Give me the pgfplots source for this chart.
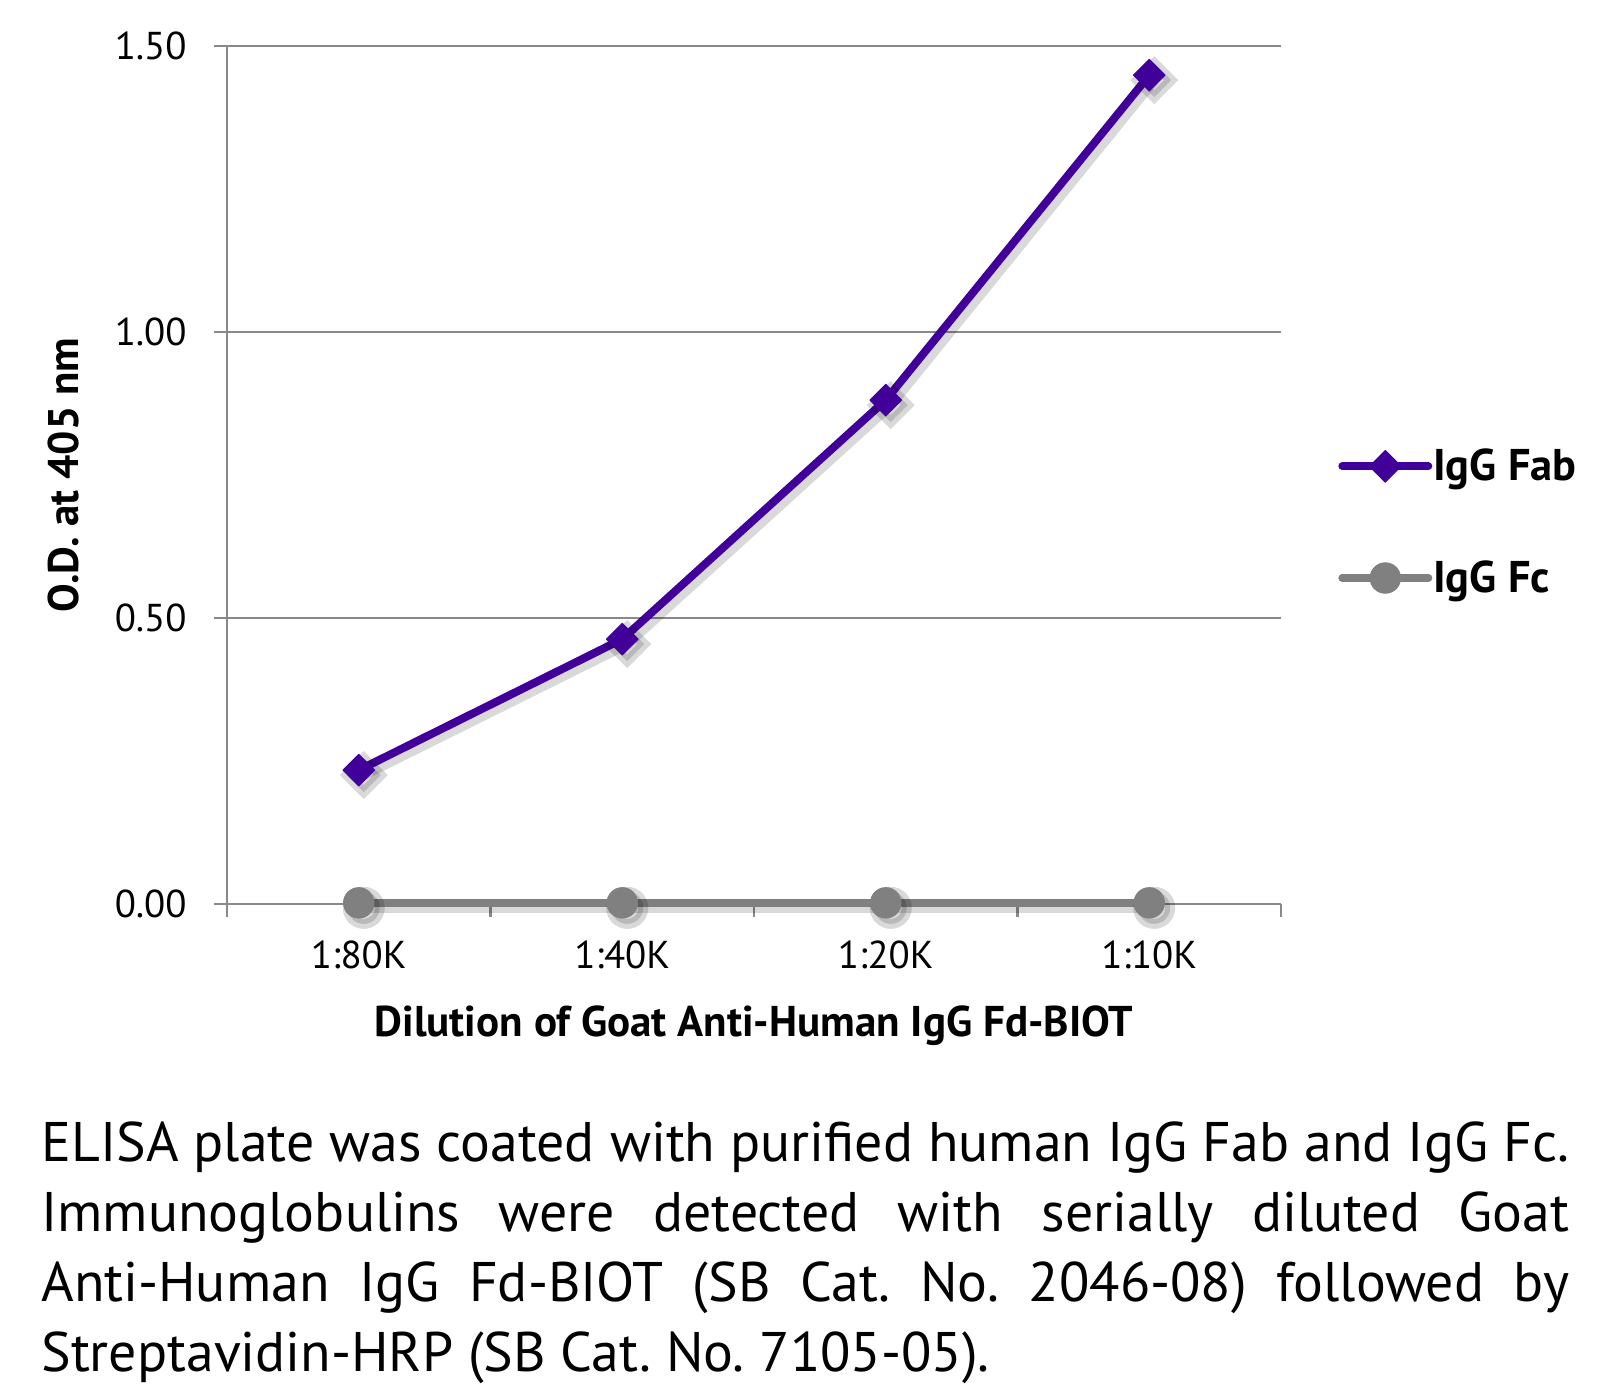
\documentclass[border=0pt]{standalone}
\usepackage{fontspec}
\setmainfont{PT Sans}
\usepackage{pgfplots}
\pgfplotsset{compat=1.18}
\definecolor{fab}{RGB}{66,0,154}
\definecolor{fc}{RGB}{128,128,128}
\definecolor{axgray}{RGB}{137,137,137}
\frenchspacing
\begin{document}
\begin{tikzpicture}
\useasboundingbox (0,0) rectangle (808.5bp,693bp);
\begin{axis}[
  at={(113.5bp,241bp)}, anchor=south west,
  scale only axis, width=527bp, height=429bp,
  xmin=-0.5, xmax=3.5, ymin=0, ymax=1.5,
  axis x line*=bottom, axis y line*=left,
  axis line style={axgray, line width=1.4bp},
  tick align=outside,
  xtick={0,1,2,3}, xticklabels={1:80K,1:40K,1:20K,1:10K},
  major x tick style={draw=none},
  minor xtick={-0.5,0.5,1.5,2.5,3.5},
  minor x tick style={axgray, line width=1.4bp},
  minor tick length=6.5bp,
  ytick={0,0.5,1,1.5},
  ymajorgrids, grid style={axgray, line width=1.4bp},
  major y tick style={axgray, line width=1.4bp},
  major tick length=6.5bp,
  tick label style={font=\fontsize{19.5}{23}\selectfont, text=black},
  yticklabel style={/pgf/number format/fixed, /pgf/number format/fixed zerofill, /pgf/number format/precision=2, anchor=east, inner sep=0pt, xshift=-13.5bp},
  xticklabel style={anchor=center, inner sep=0pt, yshift=-19bp},
  /pgf/number format/assume math mode=true,
  xlabel={Dilution of Goat Anti-Human IgG Fd-BIOT},
  xlabel style={font=\fontsize{21.6}{26}\selectfont\bfseries, at={(axis description cs:0.5,-0.1422)}, anchor=center},
  ylabel={O.D. at 405 nm},
  ylabel style={font=\fontsize{21.5}{26}\selectfont\bfseries, at={(axis description cs:-0.1547,0.5)}, anchor=center},
  legend style={at={(axis description cs:1.054,0.445)}, anchor=west, draw=none, fill=none,
    font=\fontsize{22.3}{26}\selectfont\bfseries, inner sep=0pt, row sep=35.5bp,
    nodes={inner ysep=1.5bp, inner xsep=0.5bp}},
  legend cell align=left,
  legend image code/.code={\draw[mark repeat=2, mark phase=2, #1] plot coordinates {(0bp,0bp) (21.5bp,0bp) (43bp,0bp)};},
  clip=false,
]
% shadows
\addplot[forget plot, black, opacity=0.15, line width=5bp, xshift=2.5bp, yshift=-2.5bp,
  mark=square*, mark size=6bp, mark options={rotate=45}] coordinates {(0,0.234) (1,0.463) (2,0.881) (3,1.449)};
\addplot[forget plot, black, opacity=0.15, line width=5bp, xshift=2.5bp, yshift=-2.5bp,
  mark=*, mark size=8bp] coordinates {(0,0.002) (1,0.002) (2,0.002) (3,0.002)};
% series
\addplot[fab, line width=4bp, line cap=round, line join=round,
  mark=square*, mark size=5.6bp, mark options={rotate=45, line width=0.5bp, fill=fab}] coordinates {(0,0.234) (1,0.463) (2,0.881) (3,1.449)};
\addlegendentry{IgG Fab}
\addplot[fc, line width=4bp, line cap=round, line join=round,
  mark=*, mark size=7.6bp, mark options={line width=0.5bp, fill=fc}] coordinates {(0,0.002) (1,0.002) (2,0.002) (3,0.002)};
\addlegendentry{IgG Fc}
\end{axis}
\node[anchor=base west, inner sep=0pt, text width=764bp, align=justify, font=\fontsize{28}{35}\selectfont] at (20.5bp,112bp)
{ELISA plate was coated with purified human IgG Fab and IgG Fc.\linebreak
Immunoglobulins were detected with serially diluted Goat\linebreak
Anti-Human IgG Fd-BIOT (SB Cat. No. 2046-08) followed by\linebreak
Streptavidin-HRP (SB Cat. No. 7105-05).};
\end{tikzpicture}
\end{document}
